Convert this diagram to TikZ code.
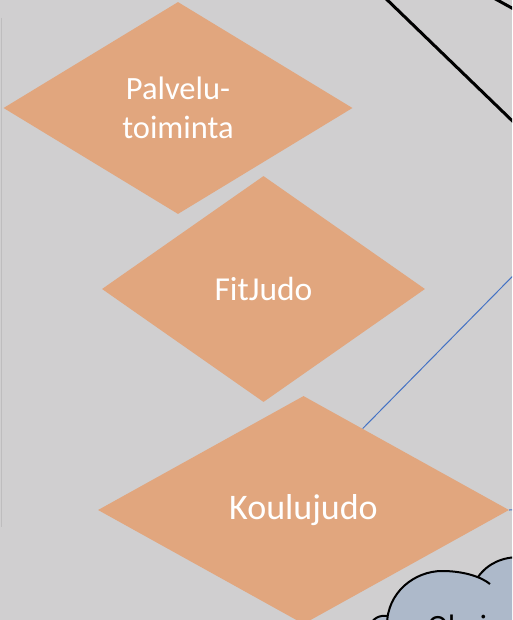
\documentclass[tikz,border=0pt]{standalone}
\usepackage{fontspec}
\setmainfont{Carlito}
\usetikzlibrary{shapes.geometric}
\definecolor{taustaharmaa}{HTML}{D0CFD0}
\definecolor{reunaharmaa}{HTML}{BEBDBE}
\definecolor{judooranssi}{HTML}{E1A67E}
\definecolor{pilvisininen}{HTML}{ADB9CA}
\definecolor{viivasininen}{HTML}{4472C4}

\begin{document}
\begin{tikzpicture}[x=1pt,y=-1pt,
        teema/.style={diamond, fill=judooranssi, inner sep=0pt, text=white, align=center},
        yhteys/.style={draw=viivasininen, line width=1pt},
        runko/.style={draw=black, line width=3pt},
        pilvi/.style={draw=black, line width=2pt}]
    \useasboundingbox (0,0) rectangle (512,620);
    \fill[taustaharmaa] (0,0) rectangle (512,620);
    \clip (0,0) rectangle (512,620);
    \draw[reunaharmaa, line width=1pt] (1,18) -- (1,527);

    % teemat
    \node[teema, minimum width=349pt, minimum height=212pt,
        font=\fontsize{32.5}{39}\selectfont] (palvelu) at (178,108) {Palvelu-\\toiminta};
    \node[teema, minimum width=323pt, minimum height=226pt,
        font=\fontsize{33.5}{40}\selectfont] (fitjudo) at (263.5,289) {FitJudo};
    \node[teema, minimum width=411pt, minimum height=228pt,
        font=\fontsize{36}{43}\selectfont] (koulujudo) at (303.5,510) {Koulujudo};

    % yhteydet kuvan ulkopuolelle
    \coordinate (runkoA1) at (378,-9);
    \coordinate (runkoA2) at (530,138);
    \coordinate (runkoB1) at (490,-4);
    \coordinate (runkoB2) at (530,18);
    \coordinate (sininenA) at (560,228);
    \coordinate (sininenB) at (540,509);
    \draw[runko] (runkoA1) -- (runkoA2);
    \draw[runko] (runkoB1) -- (runkoB2);
    \draw[yhteys] (koulujudo.54) -- (sininenA);
    \draw[yhteys] (koulujudo.east) -- (sininenB);

    % pilvi
    \fill[pilvisininen] (387,630) -- (387,625) .. controls (387,592) and (415,571) .. (442,571)
        .. controls (462,571) and (480,576) .. (490,584) -- (490,630) -- cycle;
    \fill[pilvisininen] (478,577) .. controls (488,563) and (503,557) .. (520,557)
        -- (520,630) -- (478,630) -- cycle;
    \fill[pilvisininen] (368,630) .. controls (372,617) and (380,615) .. (390,616) -- (390,630) -- cycle;
    \draw[pilvi] (387,625) .. controls (387,592) and (415,571) .. (442,571)
        .. controls (462,571) and (480,576) .. (490,584);
    \draw[pilvi] (478,577) .. controls (488,563) and (503,557) .. (520,557);
    \draw[pilvi] (368,630) .. controls (372,617) and (380,615) .. (388,616);
    \node[anchor=north, inner sep=0pt, align=center,
        font=\fontsize{31}{38}\selectfont] (oheis) at (468,615) {Oheis-\\toiminta};
\end{tikzpicture}
\end{document}
